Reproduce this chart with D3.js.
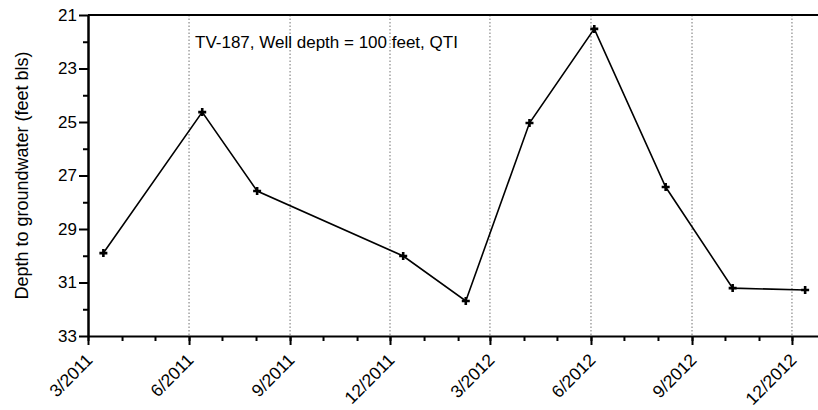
<!DOCTYPE html>
<html>
<head>
<meta charset="utf-8">
<script src="https://cdn.jsdelivr.net/npm/d3@7"></script>
<style>
  body { margin: 0; background: #fff; }
  svg { display: block; font-family: "Liberation Sans", Arial, sans-serif; }
</style>
</head>
<body>
<svg width="818" height="410"></svg>
<script>
let dates = ["2011-03-15", "2011-06-13", "2011-08-02", "2011-12-13", "2012-02-08",
  "2012-04-06", "2012-06-04", "2012-08-08", "2012-10-08", "2012-12-13"];
let depths = [29.9, 24.63, 27.58, 30.01, 31.69, 25.04, 21.52, 27.43, 31.21, 31.28];
let yTicks = [21, 23, 25, 27, 29, 31, 33];
let title = "TV-187, Well depth = 100 feet, QTI";
let yLabel = "Depth to groundwater (feet bls)";

let parse = d3.timeParse("%Y-%m-%d");
let data = dates.map((d, i) => ({date: parse(d), val: depths[i]}));

let svg = d3.select("svg");
let plotLeft = 88, plotTop = 15, plotBottom = 336;

let xStart = new Date(2011, 2, 1), xEnd = new Date(2013, 0, 1);
let xScale = d3.scaleTime()
  .domain([xStart, xEnd])
  .range([plotLeft, 826]);
let yScale = d3.scaleLinear()
  .domain([21, 33])
  .range([plotTop, plotBottom]);

let majorTicks = d3.timeMonth.range(xStart, xEnd, 3);
let minorTicks = d3.timeMonth.range(xStart, xEnd);

// dotted grid lines
svg.append("g")
  .selectAll("line")
  .data(majorTicks.slice(1))
  .enter()
  .append("line")
  .attr("x1", d => xScale(d))
  .attr("x2", d => xScale(d))
  .attr("y1", plotTop)
  .attr("y2", plotBottom)
  .attr("stroke", "#8a8a8a")
  .attr("stroke-width", 1.2)
  .attr("stroke-dasharray", "1.5,2");

// x axis
let gX = svg.append("g").attr("transform", `translate(0, ${plotBottom})`);
gX.call(d3.axisBottom(xScale).tickValues(minorTicks).tickSize(5).tickFormat(""));
gX.call(g => g.selectAll(".domain").remove());
gX.append("g")
  .call(d3.axisBottom(xScale).tickValues(majorTicks).tickSize(9).tickSizeOuter(0)
    .tickFormat(d => `${d.getMonth() + 1}/${d.getFullYear()}`));
gX.selectAll("line").attr("stroke", "#000").attr("stroke-width", 2);
gX.selectAll(".domain").attr("stroke", "#000").attr("stroke-width", 2);
gX.selectAll("text")
  .attr("font-size", 17.5)
  .attr("fill", "#000")
  .attr("text-anchor", "end")
  .attr("transform", "translate(-10, 10) rotate(-45)")
  .attr("dy", "0.71em")
  .attr("y", 9);

// y axis
let gY = svg.append("g").attr("transform", `translate(${plotLeft}, 0)`);
gY.call(d3.axisLeft(yScale).tickValues(d3.range(22, 33, 2)).tickSize(5).tickFormat(""));
gY.call(g => g.selectAll(".domain").remove());
gY.append("g")
  .call(d3.axisLeft(yScale).tickValues(yTicks).tickSize(9).tickSizeOuter(0).tickFormat(d3.format("d")));
gY.selectAll("line").attr("stroke", "#000").attr("stroke-width", 2);
gY.selectAll(".domain").attr("stroke", "#000").attr("stroke-width", 2.5);
gY.selectAll("text").attr("font-size", 17).attr("fill", "#000").attr("x", -11);

// top frame line
svg.append("line")
  .attr("x1", plotLeft)
  .attr("x2", xScale.range()[1])
  .attr("y1", plotTop)
  .attr("y2", plotTop)
  .attr("stroke", "#000")
  .attr("stroke-width", 2);

// data line
let line = d3.line()
  .x(d => xScale(d.date))
  .y(d => yScale(d.val));
svg.append("path")
  .datum(data)
  .attr("d", line)
  .attr("fill", "none")
  .attr("stroke", "#000")
  .attr("stroke-width", 1.6);

// + markers
let s = 4;
svg.append("g")
  .selectAll("path")
  .data(data)
  .enter()
  .append("path")
  .attr("d", d => {
    let x = xScale(d.date), y = yScale(d.val);
    return `M${x - s},${y}H${x + s}M${x},${y - s}V${y + s}`;
  })
  .attr("stroke", "#000")
  .attr("stroke-width", 2.6);

// title
svg.append("text")
  .attr("x", 195)
  .attr("y", 48)
  .attr("font-size", 17)
  .attr("fill", "#000")
  .text(title);

// y label
svg.append("text")
  .attr("transform", `translate(28, ${(plotTop + plotBottom) / 2}) rotate(-90)`)
  .attr("text-anchor", "middle")
  .attr("font-size", 18)
  .attr("fill", "#000")
  .text(yLabel);
</script>
</body>
</html>
